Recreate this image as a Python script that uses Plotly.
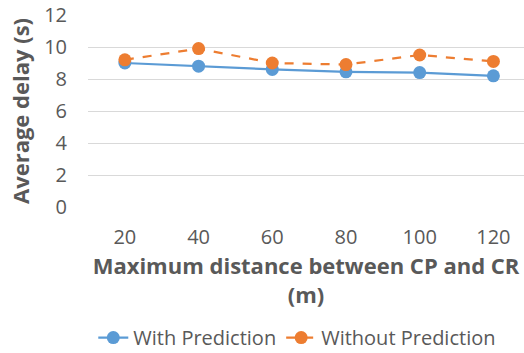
import plotly.graph_objects as go

# Maximum distance between CP and CR (m)
distances = ["20", "40", "60", "80", "100", "120"]
# Average delay (s)
with_prediction = [9.0, 8.8, 8.6, 8.45, 8.4, 8.2]
without_prediction = [9.2, 9.9, 9.0, 8.9, 9.5, 9.1]
y_ticks = [0, 2, 4, 6, 8, 10, 12]

BLUE = "#5B9BD5"
ORANGE = "#ED7D31"
TEXT = "#595959"
FONT = "Open Sans"

fig = go.Figure()
fig.add_trace(go.Scatter(
    x=distances, y=with_prediction, name="With Prediction",
    mode="lines+markers",
    line=dict(color=BLUE, width=2.25),
    marker=dict(color=BLUE, size=13, symbol="circle"),
))
fig.add_trace(go.Scatter(
    x=distances, y=without_prediction, name="Without Prediction",
    mode="lines+markers",
    line=dict(color=ORANGE, width=2.25, dash="dash"),
    marker=dict(color=ORANGE, size=13, symbol="circle"),
))

fig.update_layout(
    width=524, height=353,
    margin=dict(l=88, r=0, t=15, b=146, autoexpand=False),
    paper_bgcolor="white", plot_bgcolor="white",
    font=dict(family=FONT, size=20, color=TEXT),
    showlegend=True,
    legend=dict(
        orientation="h", x=0.48, xanchor="center", y=-0.68, yanchor="middle",
        font=dict(family=FONT, size=20, color=TEXT),
        tracegroupgap=0,
    ),
    xaxis=dict(
        type="category",
        range=[-0.5, 5.415],
        showgrid=False, zeroline=False, showline=False,
        ticks="", ticklabelstandoff=16,
        tickfont=dict(size=20, color=TEXT),
        title=dict(
            text="<b>Maximum distance between CP and CR<br>(m)</b>",
            font=dict(size=22, color=TEXT), standoff=7,
        ),
    ),
    yaxis=dict(
        range=[0, 12], tickvals=y_ticks,
        showgrid=True, gridcolor="#D9D9D9", gridwidth=1.3,
        zeroline=False, showline=False, ticks="", ticklabelstandoff=20,
        tickfont=dict(size=20, color=TEXT),
        title=dict(text="<b>Average delay (s)</b>",
                   font=dict(size=22, color=TEXT), standoff=8),
    ),
)

fig.write_html("out.html")
